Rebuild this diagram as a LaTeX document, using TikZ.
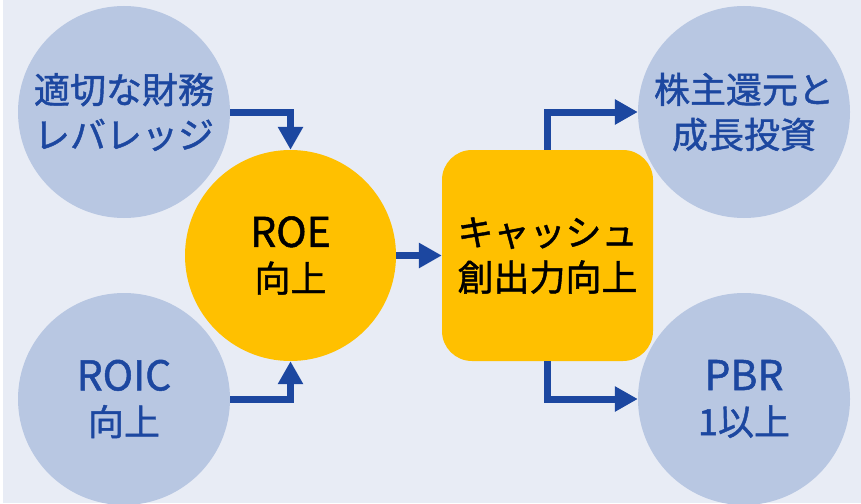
\documentclass[tikz,border=0pt]{standalone}
\usepackage{fontspec}
\setmainfont{Noto Sans CJK JP}[BoldFont=Noto Sans CJK JP, BoldFeatures={FakeBold=1.2}]
\usetikzlibrary{arrows.meta}
\definecolor{bg}{HTML}{E8ECF5}
\definecolor{lightc}{HTML}{B8C7E2}
\definecolor{gold}{HTML}{FFC000}
\definecolor{navy}{HTML}{1C47A0}
\newcommand{\latinbig}{\fontsize{41}{45}\selectfont}
\tikzset{
  bluecirc/.style={circle, fill=lightc, minimum size=212pt, inner sep=0pt, text=navy, align=center,
    font=\fontsize{36}{45}\selectfont\bfseries},
  goldcirc/.style={circle, fill=gold, minimum size=211pt, inner sep=0pt, text=black, align=center,
    font=\fontsize{36}{45}\selectfont\bfseries},
  goldbox/.style={rectangle, rounded corners=30pt, fill=gold, minimum width=211pt, minimum height=211pt,
    inner sep=0pt, text=black, align=center, font=\fontsize{36}{45}\selectfont\bfseries},
  flow/.style={draw=navy, line width=7pt, -{Triangle[length=23pt,width=24pt]}}
}
\begin{document}
\begin{tikzpicture}[x=1pt,y=-1pt]
\useasboundingbox (0,0) rectangle (861,503);
\fill[bg] (0,0) rectangle (861,503);
\fill[white] (0,0) rectangle (3,503);
\node[bluecirc] (c1) at (124,112) {適切な財務\\レバレッジ};
\node[bluecirc] (c2) at (124,399) {{\latinbig ROIC}\\向上};
\node[goldcirc] (roe) at (290.5,255.5) {{\latinbig ROE}\\向上};
\node[goldbox] (box) at (547.5,255.5) {キャッシュ\\創出力向上};
\node[bluecirc] (c3) at (744,112) {株主還元と\\成長投資};
\node[bluecirc] (c4) at (744,399) {{\latinbig PBR}\\1以上};
\draw[flow] (c1.east) -| (roe.north);
\draw[flow] (c2.east) -| (roe.south);
\draw[flow] (roe.east) -- (box.west);
\draw[flow] (box.north) |- (c3.west);
\draw[flow] (box.south) |- (c4.west);
\end{tikzpicture}
\end{document}
